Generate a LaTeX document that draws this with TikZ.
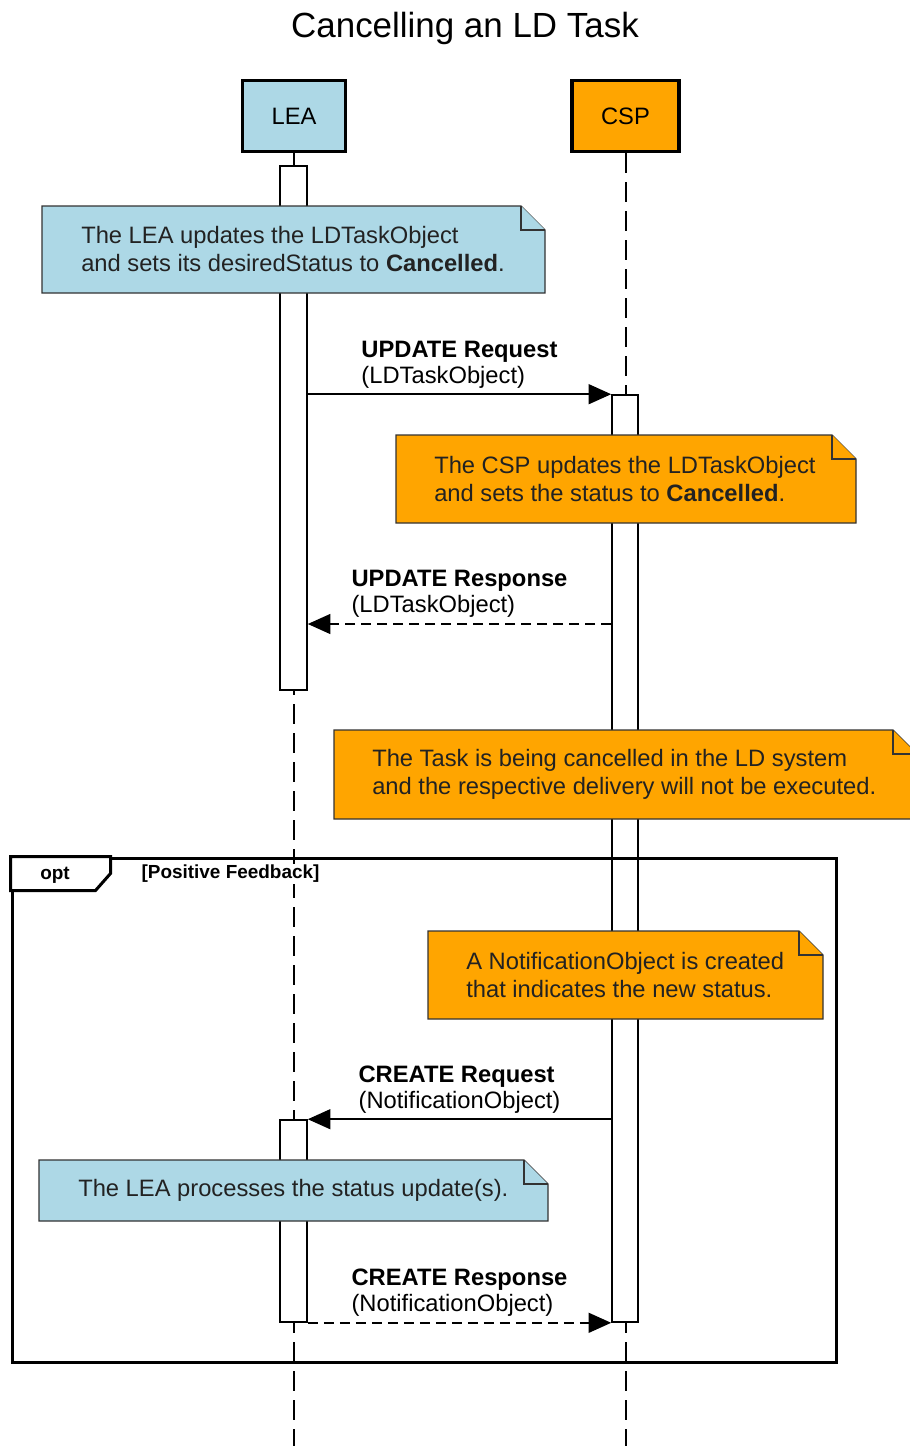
\documentclass[tikz,border=0pt]{standalone}
\usepackage{fontspec}
\setmainfont{Liberation Sans}
\usetikzlibrary{arrows.meta,fit}
\definecolor{leablue}{HTML}{ADD8E6}
\definecolor{csporange}{HTML}{FFA500}
\definecolor{notedraw}{HTML}{333333}
\definecolor{txtgray}{HTML}{222222}
\newcommand{\notebox}[5]{%
  \draw[noteline, fill=#5] (#1,#2) -- (#3-24,#2) -- (#3,#2+24) -- (#3,#4) -- (#1,#4) -- cycle;
  \draw[noteline, fill=#5] (#3-24,#2) -- (#3-24,#2+24) -- (#3,#2+24);}
\begin{document}
\begin{tikzpicture}[x=0.75pt,y=-0.75pt,
  actor/.style={draw=black, line width=2.7pt, minimum width=77pt, minimum height=53pt,
    font=\fontsize{17.8}{21}\selectfont, inner sep=0},
  lifeline/.style={line width=1.5pt, dash pattern=on 15pt off 6.75pt},
  actbar/.style={draw=black, fill=white, line width=1.2pt, inner sep=0pt},
  noteline/.style={draw=notedraw, line width=1pt},
  notetext/.style={align=left, inner sep=0pt, text=txtgray, font=\fontsize{17.8}{21}\selectfont},
  msg/.style={line width=1.2pt, -{Triangle[length=17pt,width=15pt]}},
  reply/.style={msg, dash pattern=on 7.5pt off 4.5pt},
  msglabel/.style={align=left, inner sep=0pt, above=4pt, font=\fontsize{17.8}{19.5}\selectfont},
  frame/.style={draw=black, line width=2.25pt, inner sep=0pt},
  guard/.style={font=\bfseries\fontsize{14.2}{17}\selectfont, inner sep=1pt}
]
\useasboundingbox (0,0) rectangle (910,1446);
\clip (0,0) rectangle (910,1446);

\node[font=\fontsize{26.2}{30}\selectfont] (title) at (465,28) {Cancelling an LD Task};

% actors
\node[actor, fill=leablue] (lea) at (294,116) {LEA};
\node[actor, fill=csporange, minimum width=80.5pt] (csp) at (625.5,116) {CSP};

% lifelines
\coordinate (bottom) at (0,1446);
\draw[lifeline] (lea.south) -- (lea.south |- bottom);
\draw[lifeline] (csp.south) -- (csp.south |- bottom);

% activation bars
\node[actbar, fit={(280,166) (307,690)}] (a1) {};
\node[actbar, fit={(612,395) (638,1322)}] (c1) {};
\node[actbar, fit={(280,1120) (307,1322)}] (a2) {};

% note 1
\notebox{42}{206}{545}{293}{leablue}
\node[notetext, anchor=west] (n1) at (81,249.5) {The LEA updates the LDTaskObject\\and sets its desiredStatus to \textbf{Cancelled}.};

% UPDATE Request
\draw[msg] (a1.east |- c1.north) -- (c1.north west)
  node[msglabel, midway] (l1) {\textbf{UPDATE Request}\\(LDTaskObject)};

% note 2
\notebox{396}{435}{856}{523}{csporange}
\node[notetext, anchor=west] (n2) at (434,479) {The CSP updates the LDTaskObject\\and sets the status to \textbf{Cancelled}.};

% UPDATE Response
\coordinate (y2) at (0,624);
\draw[reply] (c1.west |- y2) -- (a1.east |- y2)
  node[msglabel, midway] (l2) {\textbf{UPDATE Response}\\(LDTaskObject)};

% note 3
\notebox{334}{730}{917}{819}{csporange}
\node[notetext, anchor=west] (n3) at (372,774.5) {The Task is being cancelled in the LD system\\and the respective delivery will not be executed.};

% opt frame
\node[frame, fit={(12,858) (836,1362)}] (opt) {};
\draw[frame, fill=white] (opt.north west) -- ++(100,0) -- ++(0,17) -- ++(-15,17) -- ++(-85,0) -- cycle;
\node[guard] (optlabel) at (55,875) {opt};
\node[guard, fill=white, anchor=west] (cond) at (140,874) {[Positive Feedback]};

% note 4
\notebox{428}{931}{823}{1019}{csporange}
\node[notetext, anchor=west] (n4) at (466,975) {A NotificationObject is created\\that indicates the new status.};

% CREATE Request
\draw[msg] (c1.west |- a2.north) -- (a2.north east)
  node[msglabel, midway] (l3) {\textbf{CREATE Request}\\(NotificationObject)};

% note 5
\notebox{39}{1160}{548}{1221}{leablue}
\node[notetext, anchor=west] (n5) at (78,1190.5) {The LEA processes the status update(s).};

% CREATE Response
\draw[reply] (a2.south east) -- (c1.south west)
  node[msglabel, midway] (l4) {\textbf{CREATE Response}\\(NotificationObject)};
\end{tikzpicture}
\end{document}
